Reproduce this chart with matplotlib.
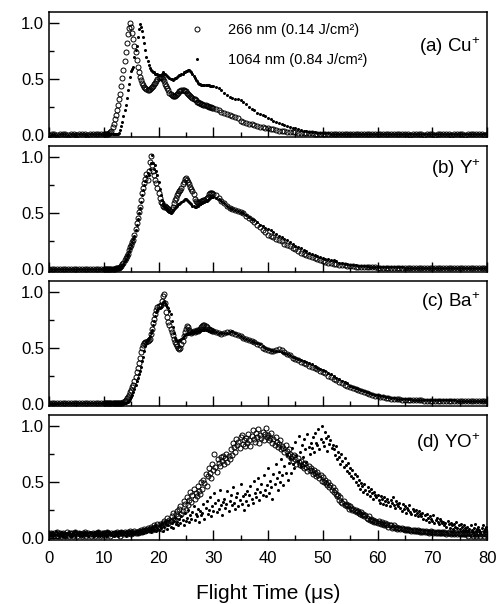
import numpy as np
import matplotlib.pyplot as plt
from matplotlib.ticker import MultipleLocator, FormatStrFormatter

plt.rcParams['font.family'] = ['Liberation Sans', 'DejaVu Sans']
plt.rcParams['mathtext.fontset'] = 'custom'
plt.rcParams['mathtext.rm'] = 'Liberation Sans'
plt.rcParams['mathtext.it'] = 'Liberation Sans:italic'

# sampling times (us) for panels a-c: coarse baseline, fine 10-30 us, coarse tail
t_abc = np.concatenate([np.linspace(0, 9.5, 20), np.linspace(10, 29.8, 100), np.linspace(30, 80, 101)])
# sampling times for panel d (every 0.2 us)
t_d = np.linspace(0, 80, 401)

baseline = [0.004, 0.006, 0.005, 0.004, 0.006, 0.005, 0.005, 0.004, 0.006, 0.005,
            0.004, 0.005, 0.006, 0.005, 0.004, 0.006, 0.005, 0.005, 0.006, 0.005]

# (a) Cu+
cu_266 = baseline + [
    0.005, 0.006, 0.006, 0.008, 0.010, 0.015, 0.025, 0.04, 0.07, 0.10,
    0.14, 0.18, 0.22, 0.27, 0.32, 0.37, 0.44, 0.51, 0.58, 0.66,
    0.74, 0.82, 0.90, 0.96, 1.00, 0.97, 0.91, 0.86, 0.80, 0.74,
    0.67, 0.61, 0.56, 0.52, 0.49, 0.47, 0.45, 0.43, 0.42, 0.41,
    0.40, 0.40, 0.41, 0.42, 0.43, 0.44, 0.46, 0.47, 0.48, 0.50,
    0.51, 0.52, 0.52, 0.51, 0.50, 0.48, 0.46, 0.44, 0.42, 0.40,
    0.38, 0.37, 0.36, 0.35, 0.35, 0.35, 0.36, 0.37, 0.38, 0.39,
    0.39, 0.40, 0.40, 0.40, 0.39, 0.39, 0.38, 0.37, 0.36, 0.35,
    0.34, 0.33, 0.32, 0.32, 0.31, 0.30, 0.30, 0.29, 0.29, 0.28,
    0.28, 0.27, 0.27, 0.27, 0.26, 0.26, 0.25, 0.25, 0.25, 0.24,
    0.24, 0.23, 0.22, 0.21, 0.20, 0.19, 0.18, 0.17, 0.16, 0.15,
    0.13, 0.12, 0.11, 0.10, 0.095, 0.09, 0.08, 0.075, 0.07, 0.065,
    0.06, 0.055, 0.05, 0.045, 0.04, 0.037, 0.034, 0.03, 0.028, 0.025,
    0.023, 0.021, 0.019, 0.017, 0.016, 0.015, 0.014, 0.013, 0.012, 0.011,
    0.010, 0.010, 0.009, 0.009, 0.009, 0.008, 0.008, 0.008, 0.008, 0.007,
    0.007, 0.007, 0.007, 0.007, 0.006, 0.006, 0.006, 0.006, 0.006, 0.006,
    0.006, 0.006, 0.005, 0.005, 0.005, 0.005, 0.005, 0.005, 0.005, 0.005,
    0.005, 0.005, 0.004, 0.005, 0.005, 0.006, 0.005, 0.004, 0.005, 0.005,
    0.005, 0.004, 0.005, 0.005, 0.006, 0.005, 0.005, 0.004, 0.005, 0.005,
    0.005, 0.005, 0.004, 0.005, 0.005, 0.005, 0.006, 0.005, 0.005, 0.004,
    0.005]
cu_1064 = baseline + [
    0.005, 0.005, 0.006, 0.005, 0.006, 0.006, 0.007, 0.007, 0.008, 0.008,
    0.006, 0.007, 0.008, 0.012, 0.02, 0.045, 0.08, 0.12, 0.17, 0.22,
    0.27, 0.33, 0.40, 0.46, 0.52, 0.57, 0.59, 0.61, 0.70, 0.76,
    0.80, 0.88, 0.95, 0.99, 0.97, 0.93, 0.88, 0.82, 0.76, 0.70,
    0.66, 0.63, 0.60, 0.58, 0.57, 0.56, 0.56, 0.55, 0.55, 0.55,
    0.54, 0.54, 0.54, 0.55, 0.56, 0.55, 0.55, 0.54, 0.53, 0.52,
    0.51, 0.50, 0.50, 0.49, 0.50, 0.51, 0.51, 0.52, 0.53, 0.54,
    0.54, 0.55, 0.55, 0.56, 0.56, 0.57, 0.57, 0.58, 0.58, 0.57,
    0.56, 0.55, 0.53, 0.51, 0.49, 0.48, 0.47, 0.46, 0.46, 0.45,
    0.45, 0.45, 0.45, 0.45, 0.45, 0.45, 0.45, 0.44, 0.44, 0.44,
    0.44, 0.43, 0.42, 0.40, 0.38, 0.36, 0.34, 0.33, 0.32, 0.32,
    0.31, 0.30, 0.28, 0.25, 0.23, 0.22, 0.20, 0.19, 0.18, 0.17,
    0.155, 0.14, 0.13, 0.12, 0.11, 0.10, 0.09, 0.08, 0.07, 0.065,
    0.06, 0.05, 0.045, 0.04, 0.035, 0.03, 0.027, 0.024, 0.021, 0.019,
    0.017, 0.015, 0.014, 0.013, 0.012, 0.012, 0.011, 0.011, 0.010, 0.010,
    0.010, 0.009, 0.009, 0.009, 0.009, 0.008, 0.008, 0.008, 0.008, 0.008,
    0.008, 0.007, 0.008, 0.008, 0.007, 0.008, 0.007, 0.007, 0.008, 0.007,
    0.007, 0.007, 0.008, 0.007, 0.007, 0.006, 0.007, 0.007, 0.007, 0.006,
    0.007, 0.007, 0.006, 0.007, 0.007, 0.007, 0.006, 0.007, 0.007, 0.006,
    0.007, 0.006, 0.007, 0.007, 0.006, 0.007, 0.007, 0.006, 0.007, 0.007,
    0.007]

# (b) Y+
y_266 = baseline + [
    0.005, 0.005, 0.006, 0.005, 0.006, 0.006, 0.005, 0.006, 0.007, 0.007,
    0.007, 0.008, 0.008, 0.009, 0.010, 0.020, 0.030, 0.050, 0.060, 0.080,
    0.10, 0.12, 0.14, 0.17, 0.20, 0.22, 0.24, 0.26, 0.31, 0.36,
    0.41, 0.46, 0.51, 0.56, 0.62, 0.68, 0.73, 0.77, 0.81, 0.85,
    0.80, 0.88, 0.96, 1.01, 0.93, 0.88, 0.84, 0.80, 0.77, 0.73,
    0.68, 0.64, 0.60, 0.59, 0.57, 0.56, 0.57, 0.56, 0.55, 0.54,
    0.53, 0.52, 0.54, 0.56, 0.59, 0.62, 0.64, 0.66, 0.68, 0.70,
    0.71, 0.73, 0.76, 0.78, 0.81, 0.82, 0.80, 0.78, 0.76, 0.74,
    0.72, 0.70, 0.67, 0.63, 0.61, 0.60, 0.59, 0.59, 0.60, 0.61,
    0.61, 0.62, 0.62, 0.63, 0.64, 0.65, 0.67, 0.68, 0.68, 0.68,
    0.67, 0.66, 0.64, 0.61, 0.59, 0.57, 0.55, 0.54, 0.53, 0.52,
    0.51, 0.50, 0.48, 0.46, 0.44, 0.42, 0.40, 0.38, 0.35, 0.33,
    0.31, 0.30, 0.29, 0.27, 0.26, 0.25, 0.23, 0.22, 0.21, 0.19,
    0.18, 0.16, 0.15, 0.14, 0.13, 0.12, 0.11, 0.10, 0.09, 0.08,
    0.07, 0.065, 0.06, 0.055, 0.05, 0.045, 0.04, 0.037, 0.034, 0.031,
    0.028, 0.026, 0.024, 0.022, 0.021, 0.020, 0.019, 0.018, 0.017, 0.016,
    0.015, 0.015, 0.014, 0.014, 0.013, 0.013, 0.013, 0.012, 0.012, 0.012,
    0.012, 0.011, 0.011, 0.011, 0.011, 0.011, 0.010, 0.010, 0.010, 0.010,
    0.010, 0.010, 0.011, 0.010, 0.009, 0.010, 0.010, 0.011, 0.010, 0.009,
    0.010, 0.009, 0.010, 0.009, 0.010, 0.009, 0.009, 0.010, 0.009, 0.009,
    0.009]
y_1064 = baseline + [
    0.005, 0.006, 0.005, 0.006, 0.005, 0.006, 0.006, 0.005, 0.006, 0.007,
    0.007, 0.007, 0.008, 0.008, 0.009, 0.010, 0.020, 0.040, 0.050, 0.070,
    0.09, 0.12, 0.14, 0.16, 0.19, 0.22, 0.24, 0.27, 0.30, 0.35,
    0.40, 0.45, 0.50, 0.55, 0.60, 0.66, 0.71, 0.75, 0.79, 0.83,
    0.86, 0.84, 0.90, 0.95, 1.02, 0.95, 0.90, 0.93, 0.88, 0.84,
    0.78, 0.72, 0.66, 0.62, 0.59, 0.57, 0.56, 0.55, 0.54, 0.52,
    0.51, 0.50, 0.52, 0.53, 0.54, 0.55, 0.56, 0.57, 0.58, 0.58,
    0.59, 0.60, 0.61, 0.62, 0.63, 0.63, 0.62, 0.61, 0.60, 0.59,
    0.58, 0.57, 0.57, 0.56, 0.56, 0.57, 0.57, 0.58, 0.58, 0.59,
    0.59, 0.60, 0.60, 0.61, 0.61, 0.62, 0.63, 0.64, 0.65, 0.65,
    0.65, 0.64, 0.63, 0.61, 0.59, 0.57, 0.55, 0.54, 0.53, 0.52,
    0.51, 0.50, 0.49, 0.47, 0.45, 0.44, 0.42, 0.40, 0.39, 0.37,
    0.36, 0.35, 0.33, 0.32, 0.30, 0.29, 0.27, 0.26, 0.24, 0.23,
    0.21, 0.20, 0.19, 0.17, 0.16, 0.15, 0.14, 0.13, 0.12, 0.11,
    0.10, 0.095, 0.09, 0.085, 0.08, 0.07, 0.06, 0.055, 0.05, 0.045,
    0.04, 0.037, 0.034, 0.031, 0.029, 0.027, 0.025, 0.024, 0.023, 0.022,
    0.021, 0.020, 0.019, 0.019, 0.018, 0.018, 0.017, 0.017, 0.016, 0.016,
    0.015, 0.015, 0.015, 0.014, 0.014, 0.014, 0.014, 0.013, 0.013, 0.013,
    0.013, 0.013, 0.012, 0.012, 0.012, 0.012, 0.012, 0.012, 0.012, 0.012,
    0.012, 0.011, 0.011, 0.011, 0.011, 0.011, 0.011, 0.011, 0.011, 0.011,
    0.011]

# (c) Ba+
ba_266 = baseline + [
    0.005, 0.006, 0.005, 0.005, 0.006, 0.005, 0.006, 0.005, 0.006, 0.006,
    0.006, 0.006, 0.007, 0.007, 0.007, 0.008, 0.008, 0.009, 0.010, 0.020,
    0.03, 0.05, 0.06, 0.08, 0.10, 0.12, 0.15, 0.17, 0.20, 0.24,
    0.28, 0.32, 0.36, 0.41, 0.46, 0.50, 0.52, 0.54, 0.55, 0.55,
    0.56, 0.57, 0.58, 0.62, 0.67, 0.72, 0.76, 0.80, 0.84, 0.86,
    0.87, 0.87, 0.88, 0.92, 0.96, 0.98, 0.90, 0.82, 0.77, 0.73,
    0.70, 0.67, 0.64, 0.61, 0.58, 0.55, 0.53, 0.51, 0.50, 0.49,
    0.50, 0.53, 0.56, 0.60, 0.64, 0.67, 0.69, 0.68, 0.66, 0.64,
    0.63, 0.64, 0.65, 0.64, 0.65, 0.66, 0.65, 0.66, 0.67, 0.68,
    0.69, 0.70, 0.70, 0.69, 0.68, 0.67, 0.67, 0.66, 0.66, 0.65,
    0.65, 0.64, 0.63, 0.62, 0.63, 0.64, 0.64, 0.63, 0.62, 0.61,
    0.60, 0.59, 0.58, 0.57, 0.56, 0.55, 0.53, 0.52, 0.50, 0.49,
    0.48, 0.47, 0.47, 0.48, 0.49, 0.48, 0.46, 0.44, 0.43, 0.41,
    0.40, 0.39, 0.37, 0.36, 0.35, 0.34, 0.33, 0.32, 0.31, 0.29,
    0.28, 0.27, 0.25, 0.24, 0.22, 0.21, 0.19, 0.18, 0.17, 0.16,
    0.15, 0.14, 0.13, 0.12, 0.11, 0.10, 0.095, 0.085, 0.075, 0.07,
    0.065, 0.06, 0.055, 0.05, 0.047, 0.044, 0.041, 0.038, 0.036, 0.034,
    0.032, 0.031, 0.030, 0.029, 0.028, 0.027, 0.027, 0.026, 0.026, 0.025,
    0.025, 0.024, 0.024, 0.023, 0.023, 0.023, 0.022, 0.022, 0.022, 0.021,
    0.021, 0.021, 0.021, 0.020, 0.020, 0.020, 0.020, 0.020, 0.020, 0.020,
    0.020]
ba_1064 = baseline + [
    0.005, 0.005, 0.006, 0.005, 0.006, 0.005, 0.005, 0.006, 0.006, 0.005,
    0.006, 0.006, 0.006, 0.007, 0.007, 0.007, 0.008, 0.008, 0.008, 0.009,
    0.009, 0.010, 0.010, 0.020, 0.040, 0.060, 0.080, 0.10, 0.13, 0.17,
    0.20, 0.23, 0.26, 0.29, 0.33, 0.38, 0.42, 0.47, 0.51, 0.55,
    0.57, 0.59, 0.60, 0.63, 0.66, 0.70, 0.74, 0.78, 0.82, 0.84,
    0.85, 0.85, 0.86, 0.89, 0.91, 0.92, 0.90, 0.88, 0.86, 0.85,
    0.83, 0.80, 0.74, 0.68, 0.63, 0.59, 0.57, 0.56, 0.56, 0.57,
    0.57, 0.58, 0.59, 0.60, 0.61, 0.62, 0.62, 0.62, 0.63, 0.63,
    0.63, 0.64, 0.64, 0.64, 0.65, 0.65, 0.65, 0.65, 0.66, 0.66,
    0.66, 0.66, 0.66, 0.66, 0.66, 0.66, 0.65, 0.65, 0.65, 0.65,
    0.65, 0.64, 0.63, 0.63, 0.63, 0.63, 0.64, 0.65, 0.63, 0.61,
    0.60, 0.59, 0.58, 0.57, 0.56, 0.55, 0.54, 0.53, 0.51, 0.50,
    0.49, 0.48, 0.47, 0.47, 0.47, 0.46, 0.45, 0.44, 0.43, 0.42,
    0.41, 0.40, 0.39, 0.38, 0.37, 0.36, 0.35, 0.34, 0.32, 0.31,
    0.30, 0.29, 0.27, 0.26, 0.25, 0.23, 0.22, 0.20, 0.19, 0.18,
    0.16, 0.15, 0.14, 0.13, 0.12, 0.11, 0.10, 0.09, 0.085, 0.08,
    0.075, 0.07, 0.065, 0.06, 0.055, 0.05, 0.047, 0.044, 0.042, 0.040,
    0.038, 0.037, 0.036, 0.035, 0.034, 0.033, 0.032, 0.031, 0.031, 0.030,
    0.030, 0.029, 0.029, 0.028, 0.028, 0.028, 0.027, 0.027, 0.027, 0.026,
    0.026, 0.026, 0.026, 0.025, 0.025, 0.025, 0.025, 0.025, 0.025, 0.025,
    0.025]

# (d) YO+ (noisy), one row per 4 us
yo_266 = [
    0.03, 0.02, 0.04, 0.03, 0.02, 0.04, 0.03, 0.05, 0.02, 0.03, 0.04, 0.02, 0.03, 0.04, 0.03, 0.02, 0.05, 0.03, 0.02, 0.04,
    0.03, 0.04, 0.02, 0.03, 0.05, 0.03, 0.02, 0.04, 0.03, 0.03, 0.02, 0.04, 0.03, 0.05, 0.02, 0.03, 0.04, 0.03, 0.02, 0.03,
    0.04, 0.03, 0.02, 0.04, 0.03, 0.05, 0.03, 0.02, 0.04, 0.03, 0.04, 0.02, 0.03, 0.05, 0.04, 0.03, 0.02, 0.04, 0.03, 0.04,
    0.03, 0.04, 0.05, 0.03, 0.04, 0.02, 0.05, 0.04, 0.03, 0.05, 0.04, 0.03, 0.05, 0.04, 0.06, 0.03, 0.05, 0.04, 0.06, 0.04,
    0.05, 0.04, 0.06, 0.05, 0.07, 0.05, 0.06, 0.08, 0.06, 0.07, 0.09, 0.07, 0.08, 0.10, 0.07, 0.09, 0.11, 0.08, 0.10, 0.12,
    0.09, 0.12, 0.11, 0.08, 0.13, 0.15, 0.12, 0.14, 0.18, 0.13, 0.16, 0.15, 0.19, 0.22, 0.17, 0.16, 0.21, 0.24, 0.19, 0.26,
    0.28, 0.21, 0.24, 0.33, 0.30, 0.25, 0.36, 0.29, 0.34, 0.41, 0.32, 0.38, 0.44, 0.35, 0.40, 0.37, 0.46, 0.42, 0.39, 0.50,
    0.44, 0.52, 0.49, 0.57, 0.46, 0.55, 0.62, 0.58, 0.53, 0.66, 0.61, 0.75, 0.63, 0.59, 0.70, 0.67, 0.64, 0.72, 0.69, 0.73,
    0.66, 0.71, 0.75, 0.68, 0.73, 0.70, 0.79, 0.74, 0.85, 0.81, 0.77, 0.88, 0.83, 0.86, 0.80, 0.90, 0.92, 0.84, 0.87, 0.82,
    0.89, 0.85, 0.93, 0.87, 0.82, 0.91, 0.96, 0.88, 0.86, 0.94, 0.90, 0.97, 0.85, 0.92, 0.89, 0.95, 0.87, 0.93, 0.98, 0.90,
    0.92, 0.87, 0.89, 0.94, 0.85, 0.88, 0.83, 0.90, 0.86, 0.81, 0.84, 0.87, 0.79, 0.82, 0.80, 0.77, 0.83, 0.78, 0.74, 0.79,
    0.75, 0.71, 0.73, 0.69, 0.74, 0.70, 0.66, 0.71, 0.68, 0.65, 0.69, 0.64, 0.66, 0.62, 0.67, 0.63, 0.60, 0.64, 0.61, 0.62,
    0.60, 0.57, 0.61, 0.58, 0.55, 0.59, 0.56, 0.53, 0.56, 0.51, 0.54, 0.50, 0.52, 0.49, 0.47, 0.50, 0.45, 0.47, 0.43, 0.45,
    0.41, 0.43, 0.39, 0.37, 0.38, 0.34, 0.36, 0.32, 0.31, 0.33, 0.29, 0.30, 0.28, 0.29, 0.26, 0.28, 0.27, 0.25, 0.26, 0.24,
    0.25, 0.23, 0.24, 0.22, 0.21, 0.23, 0.20, 0.21, 0.19, 0.20, 0.18, 0.17, 0.19, 0.16, 0.17, 0.15, 0.16, 0.14, 0.15, 0.14,
    0.13, 0.15, 0.13, 0.12, 0.14, 0.12, 0.11, 0.13, 0.11, 0.12, 0.10, 0.11, 0.11, 0.09, 0.10, 0.11, 0.09, 0.10, 0.08, 0.09,
    0.09, 0.08, 0.09, 0.08, 0.08, 0.07, 0.08, 0.07, 0.08, 0.07, 0.07, 0.06, 0.07, 0.06, 0.07, 0.06, 0.06, 0.07, 0.06, 0.05,
    0.06, 0.05, 0.06, 0.05, 0.06, 0.05, 0.05, 0.04, 0.05, 0.06, 0.05, 0.04, 0.05, 0.04, 0.05, 0.04, 0.05, 0.04, 0.04, 0.05,
    0.04, 0.05, 0.04, 0.03, 0.04, 0.05, 0.04, 0.03, 0.04, 0.04, 0.03, 0.04, 0.05, 0.03, 0.04, 0.03, 0.04, 0.03, 0.04, 0.03,
    0.03, 0.04, 0.03, 0.02, 0.04, 0.03, 0.03, 0.02, 0.04, 0.03, 0.02, 0.03, 0.04, 0.03, 0.02, 0.03, 0.04, 0.02, 0.03, 0.03,
    0.03]
yo_1064 = [
    0.02, 0.04, 0.03, 0.05, 0.02, 0.03, 0.06, 0.03, 0.04, 0.02, 0.03, 0.05, 0.02, 0.04, 0.03, 0.01, 0.04, 0.03, 0.05, 0.02,
    0.03, 0.02, 0.04, 0.03, 0.06, 0.03, 0.04, 0.05, 0.03, 0.04, 0.02, 0.04, 0.03, 0.05, 0.03, 0.04, 0.02, 0.05, 0.04, 0.03,
    0.04, 0.02, 0.05, 0.03, 0.04, 0.06, 0.03, 0.02, 0.04, 0.05, 0.03, 0.04, 0.02, 0.06, 0.03, 0.05, 0.04, 0.03, 0.05, 0.02,
    0.03, 0.05, 0.04, 0.02, 0.04, 0.03, 0.06, 0.04, 0.03, 0.05, 0.02, 0.04, 0.05, 0.03, 0.06, 0.04, 0.03, 0.05, 0.04, 0.06,
    0.05, 0.03, 0.06, 0.04, 0.07, 0.05, 0.04, 0.08, 0.06, 0.05, 0.09, 0.06, 0.07, 0.05, 0.10, 0.07, 0.08, 0.11, 0.06, 0.09,
    0.07, 0.11, 0.09, 0.13, 0.06, 0.10, 0.14, 0.12, 0.08, 0.11, 0.16, 0.10, 0.13, 0.09, 0.15, 0.18, 0.12, 0.14, 0.11, 0.17,
    0.13, 0.19, 0.16, 0.11, 0.22, 0.15, 0.18, 0.25, 0.14, 0.20, 0.17, 0.23, 0.28, 0.16, 0.21, 0.19, 0.26, 0.14, 0.24, 0.20,
    0.22, 0.30, 0.17, 0.27, 0.33, 0.21, 0.25, 0.36, 0.19, 0.28, 0.24, 0.40, 0.31, 0.23, 0.34, 0.26, 0.43, 0.29, 0.20, 0.32,
    0.35, 0.27, 0.30, 0.42, 0.24, 0.33, 0.38, 0.29, 0.45, 0.31, 0.26, 0.36, 0.40, 0.28, 0.34, 0.48, 0.30, 0.37, 0.25, 0.39,
    0.33, 0.42, 0.29, 0.38, 0.46, 0.35, 0.31, 0.51, 0.40, 0.36, 0.44, 0.53, 0.34, 0.41, 0.48, 0.38, 0.56, 0.43, 0.37, 0.47,
    0.62, 0.40, 0.51, 0.45, 0.35, 0.57, 0.48, 0.66, 0.53, 0.43, 0.59, 0.50, 0.70, 0.56, 0.47, 0.64, 0.58, 0.74, 0.52, 0.67,
    0.71, 0.58, 0.80, 0.66, 0.62, 0.86, 0.74, 0.69, 0.91, 0.77, 0.64, 0.83, 0.72, 0.88, 0.79, 0.68, 0.93, 0.81, 0.75, 0.85,
    0.80, 0.90, 0.77, 0.94, 0.85, 0.83, 0.97, 0.79, 0.88, 1.00, 0.86, 0.82, 0.95, 0.89, 0.78, 0.91, 0.84, 0.87, 0.80, 0.83,
    0.79, 0.74, 0.82, 0.70, 0.77, 0.72, 0.66, 0.75, 0.69, 0.63, 0.71, 0.65, 0.60, 0.67, 0.58, 0.62, 0.55, 0.61, 0.53, 0.57,
    0.50, 0.55, 0.47, 0.52, 0.44, 0.49, 0.46, 0.41, 0.48, 0.43, 0.39, 0.45, 0.42, 0.37, 0.44, 0.40, 0.35, 0.41, 0.38, 0.36,
    0.38, 0.34, 0.31, 0.37, 0.35, 0.30, 0.36, 0.33, 0.29, 0.35, 0.32, 0.28, 0.34, 0.31, 0.36, 0.29, 0.27, 0.33, 0.30, 0.28,
    0.31, 0.27, 0.24, 0.30, 0.26, 0.28, 0.22, 0.27, 0.25, 0.29, 0.23, 0.21, 0.26, 0.24, 0.20, 0.25, 0.22, 0.19, 0.24, 0.21,
    0.19, 0.22, 0.17, 0.20, 0.16, 0.21, 0.18, 0.14, 0.19, 0.17, 0.15, 0.20, 0.13, 0.16, 0.18, 0.14, 0.12, 0.17, 0.15, 0.13,
    0.14, 0.11, 0.13, 0.10, 0.15, 0.12, 0.09, 0.13, 0.11, 0.08, 0.12, 0.10, 0.14, 0.09, 0.11, 0.08, 0.12, 0.10, 0.07, 0.11,
    0.09, 0.07, 0.10, 0.06, 0.08, 0.11, 0.07, 0.05, 0.09, 0.12, 0.06, 0.08, 0.10, 0.07, 0.05, 0.09, 0.11, 0.06, 0.08, 0.10,
    0.07]

panels = [
    (t_abc, cu_266, cu_1064, r'(a) Cu$^{+}$', 0.72),
    (t_abc, y_266, y_1064, r'(b) Y$^{+}$', 0.82),
    (t_abc, ba_266, ba_1064, r'(c) Ba$^{+}$', 0.83),
    (t_d, yo_266, yo_1064, r'(d) YO$^{+}$', 0.78),
]

fig = plt.figure(figsize=(5, 6.04), dpi=100)
axes = fig.subplots(4, 1, sharex=True)
fig.subplots_adjust(left=0.098, right=0.974, top=0.980, bottom=0.106, hspace=0.072)

for ax, (t, s266, s1064, name, ypos) in zip(axes, panels):
    ax.plot(t, s266, 'o', ms=3.6, mfc='none', mec='k', mew=0.7,
            label='266 nm (0.14 J/cm²)')
    ax.plot(t, s1064, 'o', ms=2.2, mfc='k', mec='k', mew=0,
            label='1064 nm (0.84 J/cm²)')
    ax.set_xlim(0, 80)
    ax.set_ylim(-0.02, 1.10)
    ax.xaxis.set_major_locator(MultipleLocator(10))
    ax.xaxis.set_minor_locator(MultipleLocator(5))
    ax.yaxis.set_major_locator(MultipleLocator(0.5))
    ax.yaxis.set_minor_locator(MultipleLocator(0.25))
    ax.yaxis.set_major_formatter(FormatStrFormatter('%.1f'))
    ax.tick_params(which='both', direction='in', top=False, right=False,
                   labelsize=12, width=1.0)
    ax.tick_params(which='major', length=7)
    ax.tick_params(which='minor', length=3.5)
    ax.tick_params(axis='x', pad=8)
    for sp in ax.spines.values():
        sp.set_linewidth(1.1)
    ax.text(0.985, ypos, name, transform=ax.transAxes, ha='right', va='center',
            fontsize=13.5)

axes[0].legend(loc='upper left', bbox_to_anchor=(0.321, 0.915), frameon=False,
               handlelength=1.0, handletextpad=1.6, borderpad=0, borderaxespad=0,
               labelspacing=1.15, fontsize=10.5, numpoints=1)

axes[-1].set_xlabel('Flight Time (μs)', fontsize=15, labelpad=13)

fig.savefig('out.png', dpi=100)
